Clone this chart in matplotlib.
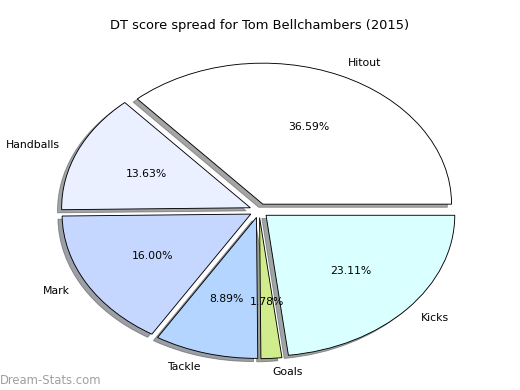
import matplotlib
matplotlib.use("Agg")
import matplotlib.pyplot as plt

categories = ["Hitout", "Handballs", "Mark", "Tackle", "Goals", "Kicks"]
shares = [36.59, 13.63, 16.00, 8.89, 1.78, 23.11]
colors = ["#ffffff", "#eaf0ff", "#c5d7ff", "#b4d5ff", "#d0ec8c", "#d9ffff"]
explode = [0.05] * len(shares)
title = "DT score spread for Tom Bellchambers (2015)"
watermark = "Dream-Stats.com"

W, H, DPI = 520, 390, 80
fig = plt.figure(figsize=(W / DPI, H / DPI), dpi=DPI)
ax = fig.add_axes([0, 0, 1, 1])

ax.pie(shares, labels=categories, colors=colors, explode=explode,
       startangle=0, counterclock=True, autopct="%.2f%%", shadow=True,
       wedgeprops=dict(edgecolor="black", linewidth=0.8),
       textprops=dict(fontsize=9.8))

# pixel geometry: centre at (259, 210.6) from top, rx=188.7, ry=141
sx, sy = 188.7, 141.0
cx, cy = 259.0, H - 210.6
x0 = -cx / sx
y0 = -cy / sy
ax.set_xlim(x0, x0 + W / sx)
ax.set_ylim(y0, y0 + H / sy)
ax.set_aspect("auto")
ax.axis("off")

fig.text(0.5, 1 - 25 / H, title, ha="center", va="center", fontsize=11.7)
fig.text(0.0, 1 - 380 / H, watermark, ha="left", va="center",
         fontsize=10.5, color="#a0a0a0")

fig.savefig("out.png", dpi=DPI)
